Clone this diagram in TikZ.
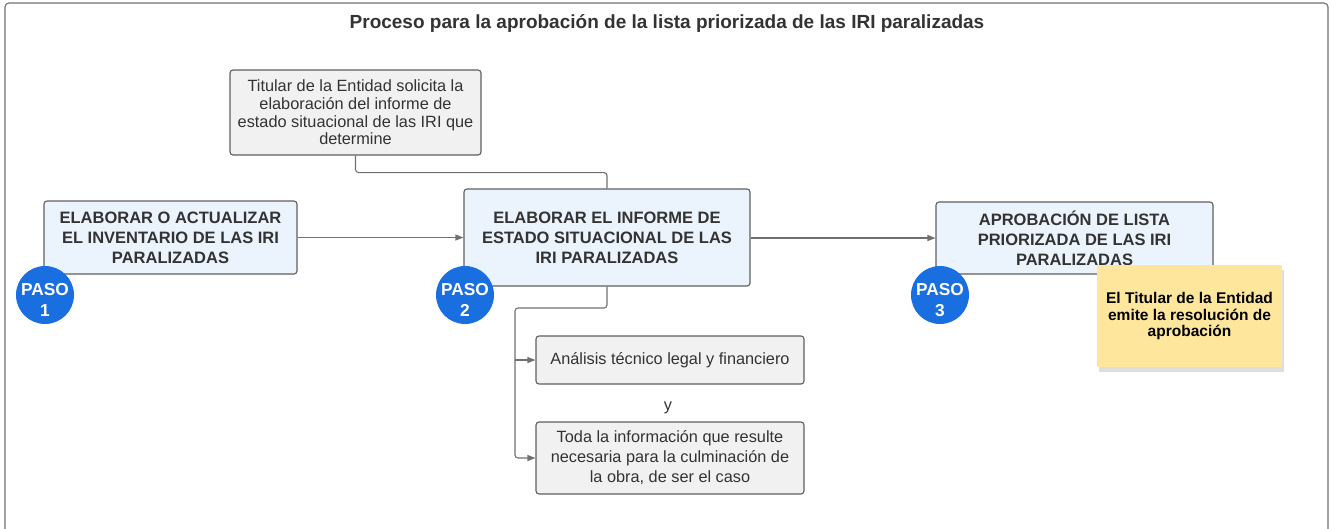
\documentclass[tikz,border=0pt]{standalone}
\usepackage{fontspec}
\setmainfont{Liberation Sans}
\usetikzlibrary{arrows.meta,shadows}
\definecolor{lineg}{HTML}{707070}
\definecolor{boxedge}{HTML}{5F5F5F}
\definecolor{bluefill}{HTML}{EBF3FD}
\definecolor{greyfill}{HTML}{F1F1F1}
\definecolor{pasoblue}{HTML}{1A6FE0}
\definecolor{stickyfill}{HTML}{FEE79D}
\definecolor{txt}{HTML}{333333}
\tikzset{
  base/.style={draw=boxedge, line width=1.1pt, rounded corners=3pt, align=center, text=txt, inner sep=2pt},
  bluebox/.style={base, fill=bluefill, font=\fontsize{16.5}{20}\selectfont\bfseries},
  greybox/.style={base, fill=greyfill, font=\fontsize{16.3}{17.6}\selectfont},
  pasocircle/.style={circle, fill=pasoblue, minimum size=58pt, inner sep=0pt},
  pasotext/.style={text=white, align=center, inner sep=0pt, font=\fontsize{17.3}{21}\selectfont\bfseries},
  sticky/.style={fill=stickyfill, align=center, text=black, font=\fontsize{15.5}{16.7}\selectfont\bfseries,
     drop shadow={shadow xshift=2pt, shadow yshift=-5pt, fill=black, opacity=0.13}},
  conn/.style={draw=lineg, line width=1.1pt, rounded corners=3pt},
  arrowc/.style={conn, -{Triangle[length=8pt,width=6pt]}},
}
\begin{document}
\begin{tikzpicture}[x=1pt,y=-1pt]
\useasboundingbox (0,0) rectangle (1332,528);
\draw[draw=lineg, line width=1.1pt, rounded corners=4pt] (5,545) -- (5,3) -- (1328,3) -- (1328,545);
\node[font=\fontsize{19}{22}\selectfont\bfseries, text=txt] (title) at (667,24) {Proceso para la aprobación de la lista priorizada de las IRI paralizadas};

\node[greybox, minimum width=251pt, minimum height=85pt] (bt) at (355.5,112.5)
  {Titular de la Entidad solicita la\\elaboración del informe de\\estado situacional de las IRI que\\determine};
\node[bluebox, minimum width=253pt, minimum height=73pt] (b1) at (170.5,237.5)
  {ELABORAR O ACTUALIZAR\\EL INVENTARIO DE LAS IRI\\PARALIZADAS};
\node[bluebox, minimum width=286pt, minimum height=97pt] (b2) at (607,237.5)
  {ELABORAR EL INFORME DE\\ESTADO SITUACIONAL DE LAS\\IRI PARALIZADAS};
\node[bluebox, minimum width=277pt, minimum height=72pt] (b3) at (1074.5,238)
  {APROBACIÓN DE LISTA\\PRIORIZADA DE LAS IRI\\PARALIZADAS};
\node[greybox, minimum width=268pt, minimum height=48pt] (ba) at (670,360)
  {Análisis técnico legal y financiero};
\node[font=\fontsize{16.3}{17.6}\selectfont, text=txt] (y) at (668,408) {y};
\node[greybox, font=\fontsize{16.3}{20}\selectfont, minimum width=268pt, minimum height=72pt] (bb) at (670,458)
  {Toda la información que resulte\\necesaria para la culminación de\\la obra, de ser el caso};

\coordinate (j) at (515,308);
\draw[conn] (bt.south) -- ++(0,17) -| (b2.north);
\draw[arrowc] (b1.east) -- (b1.east -| b2.west);
\draw[arrowc] (b2.east |- b3.west) -- (b3.west);
\draw[conn] (b2.south) |- (j) -- (j |- ba.west);
\draw[arrowc] (j |- ba.west) -- (ba.west);
\draw[arrowc] (j |- ba.west) |- (bb.west);

\node[pasocircle] (p1) at (45,295) {};
\node[pasocircle] (p2) at (465,295) {};
\node[pasocircle] (p3) at (940,295) {};
\node[pasotext] (p1t) at (45,300) {PASO\\1};
\node[pasotext] (p2t) at (465,300) {PASO\\2};
\node[pasotext] (p3t) at (940,300) {PASO\\3};

\node[sticky, minimum width=185pt, minimum height=102pt] (st) at (1189.5,316)
  {El Titular de la Entidad\\emite la resolución de\\aprobación};
\end{tikzpicture}
\end{document}
